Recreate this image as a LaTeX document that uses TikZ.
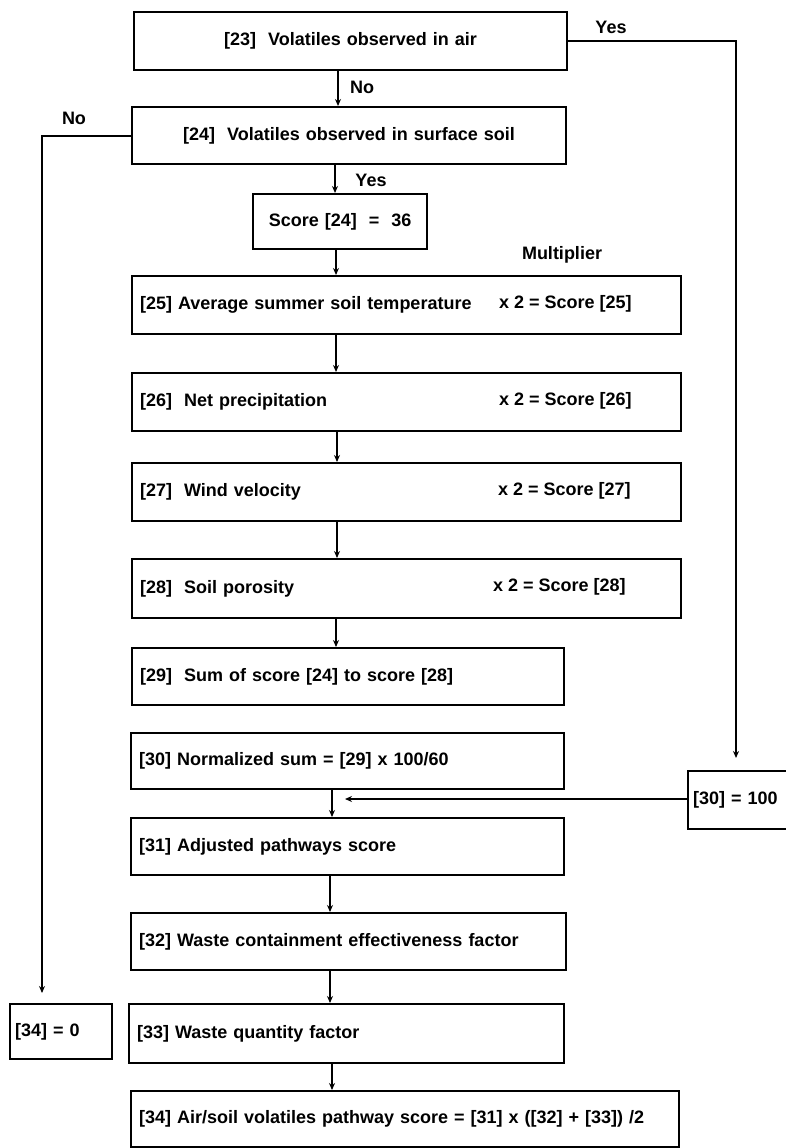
\documentclass[tikz,border=0pt]{standalone}
\usepackage{fontspec}
\setmainfont{Liberation Sans}
\usetikzlibrary{arrows.meta,calc}
\begin{document}
\begin{tikzpicture}[x=1pt,y=-1pt,
  font=\fontsize{18}{20}\selectfont\bfseries,
  line width=2.2pt,
  box/.style={draw, anchor=north west, inner xsep=8pt, inner ysep=0pt, align=left},
  cbox/.style={draw, anchor=north west, inner xsep=0pt, inner ysep=0pt, align=center},
  lbl/.style={inner sep=0pt},
  arr/.style={-{Stealth[length=7pt,width=6pt]}}]
\useasboundingbox (0,0) rectangle (786,1148);
% boxes
\node[cbox, text width=433pt, minimum height=58pt] (b23) at (133,11) {[23]\ \ Volatiles observed in air};
\node[cbox, text width=434pt, minimum height=57pt] (b24) at (131,106) {[24]\ \ Volatiles observed in surface soil};
\node[cbox, text width=174pt, minimum height=55pt] (bs) at (252,193) {Score [24]\ \ =\ \ 36};
\node[box, text width=533pt, minimum height=58pt] (b25) at (131,275) {[25] Average summer soil temperature};
\node[box, text width=533pt, minimum height=58pt] (b26) at (131,372) {[26]\ \ Net precipitation};
\node[box, text width=533pt, minimum height=58pt] (b27) at (131,462) {[27]\ \ Wind velocity};
\node[box, text width=533pt, minimum height=59pt] (b28) at (131,558) {[28]\ \ Soil porosity};
\node[box, text width=416pt, minimum height=57pt] (b29) at (131,647) {[29]\ \ Sum of score [24] to score [28]};
\node[box, text width=417pt, minimum height=56pt] (b30) at (130,732) {[30] Normalized sum = [29] x 100/60};
\node[box, text width=417pt, minimum height=57pt] (b31) at (130,817) {[31] Adjusted pathways score};
\node[box, text width=419pt, minimum height=57pt] (b32) at (130,912) {[32] Waste containment effectiveness factor};
\node[box, text width=419pt, minimum height=59pt] (b33) at (128,1003) {[33] Waste quantity factor};
\node[box, text width=532pt, minimum height=56pt] (b34) at (130,1090) {[34] Air/soil volatiles pathway score = [31] x ([32] + [33]) /2};
\node[box, inner xsep=5pt, text width=110pt, minimum height=58pt] (b100) at (687,770) {[30] = 100};
\node[box, inner xsep=5pt, text width=92pt, minimum height=55pt] (b0) at (9,1003) {[34] = 0};
% multiplier texts
\node[lbl, anchor=west] (m25) at (498,304) {x 2 = Score [25]};
\node[lbl, anchor=west] (m26) at (498,401) {x 2 = Score [26]};
\node[lbl, anchor=west] (m27) at (497,491) {x 2 = Score [27]};
\node[lbl, anchor=west] (m28) at (492,587) {x 2 = Score [28]};
\node[lbl] (mult) at (562,255) {Multiplier};
% labels
\node[lbl] (yes1) at (611,27) {Yes};
\node[lbl] (no1) at (362,87) {No};
\node[lbl] (no2) at (74,118) {No};
\node[lbl] (yes2) at (371,180) {Yes};
% connectors
\draw[arr] (b23.south -| 338,0) -- (b24.north -| 338,0);
\draw[arr] (b24.south -| 335,0) -- (bs.north -| 335,0);
\draw[arr] (bs.south -| 336,0) -- (b25.north -| 336,0);
\draw[arr] (b25.south -| 336,0) -- (b26.north -| 336,0);
\draw[arr] (b26.south -| 337,0) -- (b27.north -| 337,0);
\draw[arr] (b27.south -| 337,0) -- (b28.north -| 337,0);
\draw[arr] (b28.south -| 336,0) -- (b29.north -| 336,0);
\draw[arr] (b30.south -| 332,0) -- (b31.north -| 332,0);
\draw[arr] (b31.south -| 330,0) -- (b32.north -| 330,0);
\draw[arr] (b32.south -| 330,0) -- (b33.north -| 330,0);
\draw[arr] (b33.south -| 332,0) -- (b34.north -| 332,0);
\coordinate (yc) at (736,0);
\draw[arr, shorten >=12pt] (b23.east) -| (b100.north -| yc);
\coordinate (nc) at (42,0);
\draw[arr, shorten >=10pt] (b24.west) -| (b0.north -| nc);
\coordinate (j) at (345,799);
\draw[arr] (b100.west |- j) -- (j);
\end{tikzpicture}
\end{document}
